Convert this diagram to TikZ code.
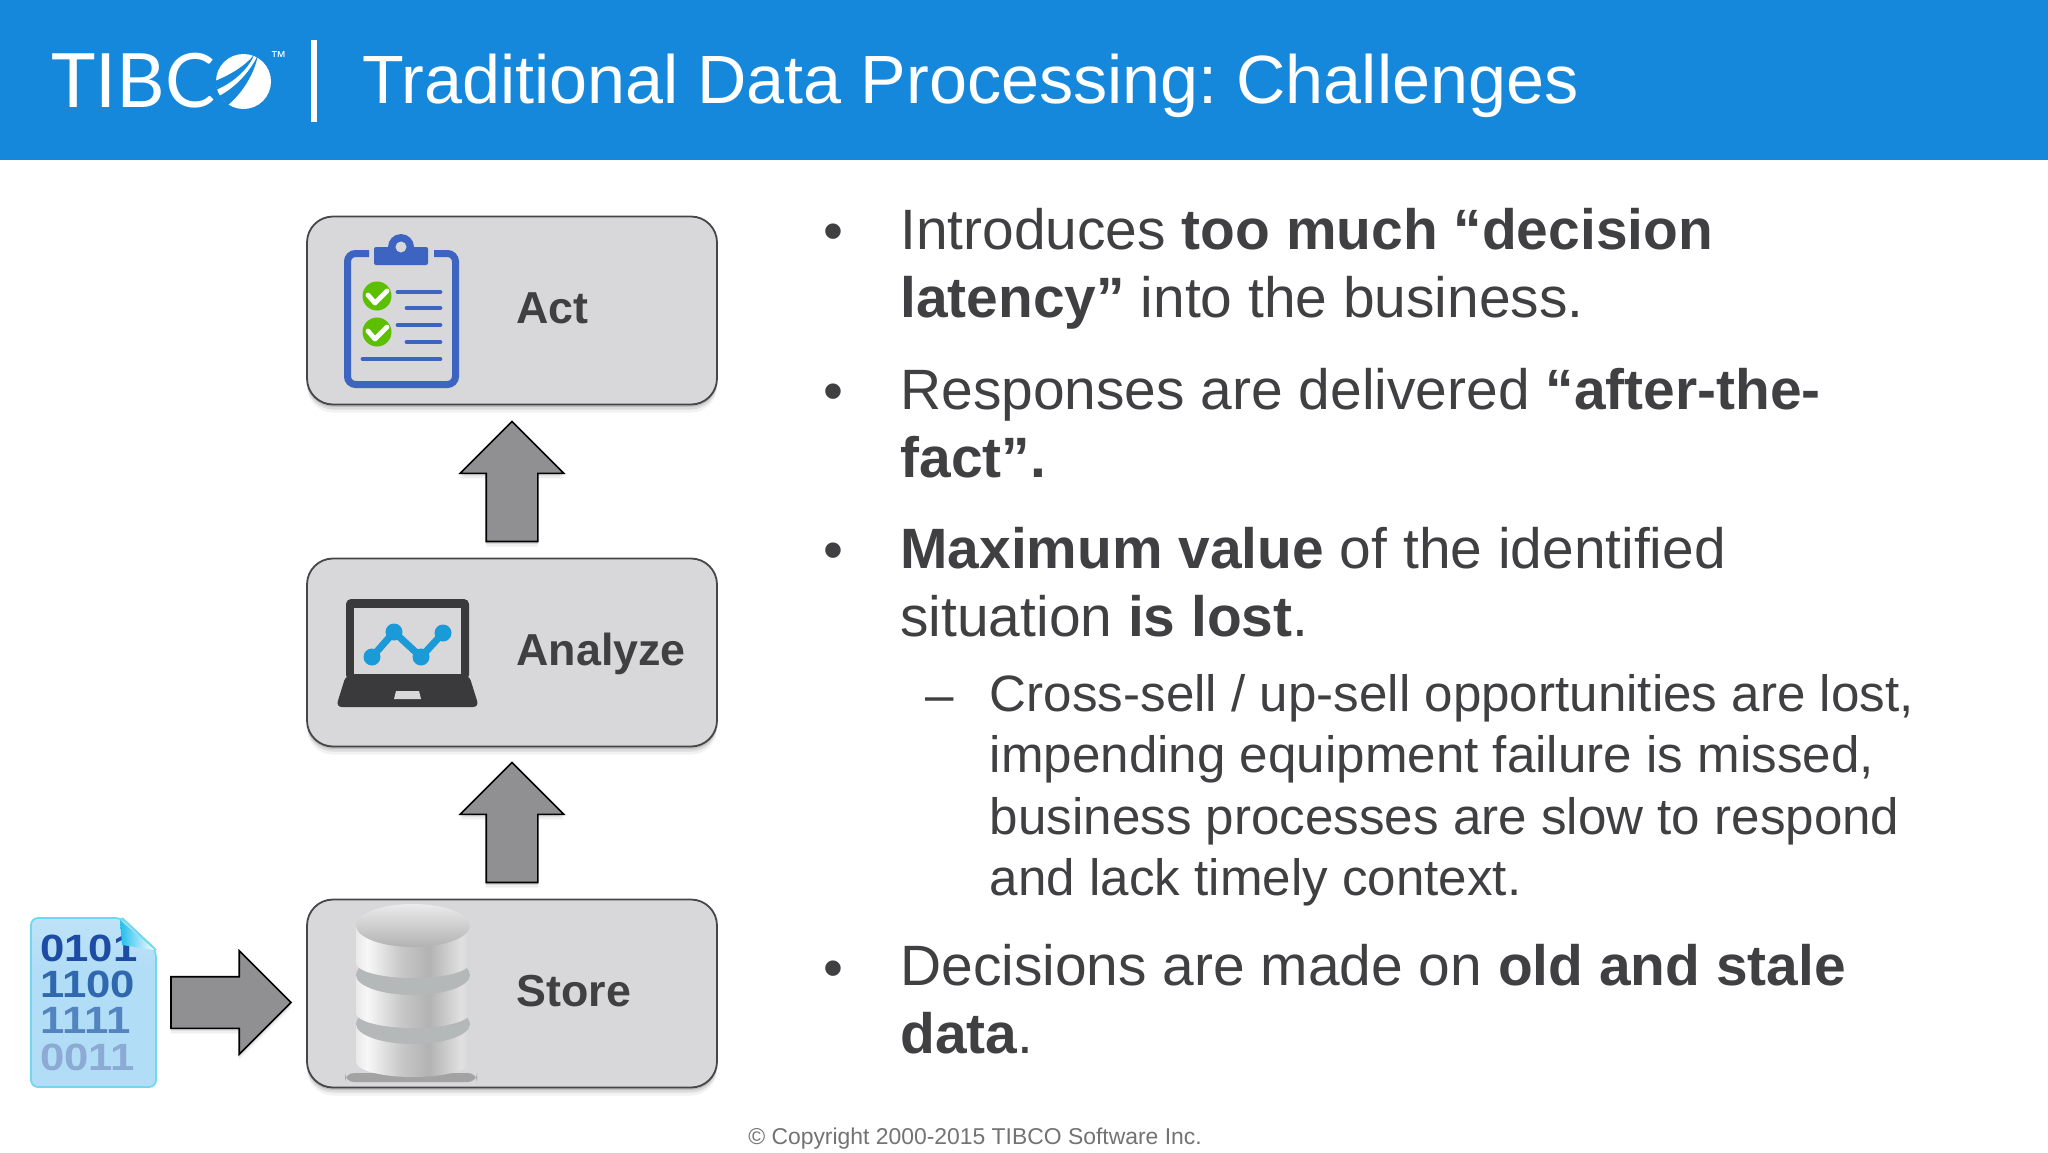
\documentclass[tikz,border=0pt]{standalone}
\usepackage{fontspec}
\usetikzlibrary{positioning, calc, shapes.arrows, shadows}
\setmainfont{Liberation Sans}
\newfontfamily\logofont{Lato}
\frenchspacing

\definecolor{bannerblue}{HTML}{1688DC}
\definecolor{bodygray}{HTML}{404042}
\definecolor{stagegray}{HTML}{D8D8DA}
\definecolor{stageedge}{HTML}{464648}
\definecolor{arrowgray}{HTML}{908F92}
\definecolor{clipblue}{HTML}{3D64C0}
\definecolor{checkgreen}{HTML}{5CC000}
\definecolor{chartblue}{HTML}{1A9BD8}
\definecolor{laptopdark}{HTML}{3A393C}
\definecolor{fileedge}{HTML}{70D8F0}
\definecolor{filemid}{HTML}{B2DDF6}
\definecolor{filetop}{HTML}{D4ECFA}
\definecolor{foldcyan}{HTML}{20BEEE}
\definecolor{bitsa}{HTML}{1C4CA4}
\definecolor{bitsb}{HTML}{3068B0}
\definecolor{bitsc}{HTML}{5484C0}
\definecolor{bitsd}{HTML}{8CAAD4}
\definecolor{dbband}{HTML}{B5B8B8}

\pgfdeclarehorizontalshading{dbsteel}{100bp}{color(0bp)=(black!35); color(15bp)=(black!20); color(30bp)=(black!3); color(45bp)=(black!22); color(57bp)=(black!30); color(71bp)=(black!12); color(86bp)=(black!28); color(100bp)=(black!55)}
\pgfdeclareverticalshading{filefill}{100bp}{color(0bp)=(white); color(7bp)=(white); color(24bp)=(filemid); color(60bp)=(filemid); color(100bp)=(filetop)}

\tikzset{
	stage/.style={draw=stageedge, fill=stagegray, line width=.9pt, rounded corners=13pt,
		minimum width=205pt, minimum height=94pt, inner sep=0pt, outer sep=0pt,
		drop shadow={shadow xshift=0pt, shadow yshift=-4pt, opacity=.1},
		drop shadow={shadow xshift=0pt, shadow yshift=-2.5pt, opacity=.2},
		drop shadow={shadow xshift=0pt, shadow yshift=-1.2pt, opacity=.3}},
	stagelabel/.style={anchor=base west, inner sep=0pt, text=bodygray, font=\fontsize{22.4}{26}\selectfont\bfseries},
	blockarrow/.style={single arrow, draw=black, fill=arrowgray, line width=.8pt, inner sep=12.5pt, outer sep=0pt,
		minimum width=51pt, minimum height=60pt, single arrow head extend=13pt, single arrow tip angle=90,
		single arrow head indent=0pt, anchor=tail,
		drop shadow={shadow xshift=0pt, shadow yshift=-2.5pt, opacity=.12},
		drop shadow={shadow xshift=0pt, shadow yshift=-1.2pt, opacity=.2}},
	bullettext/.style={anchor=north west, align=left, inner sep=0pt, text=bodygray, font=\fontsize{28.45}{34}\selectfont},
	subtext/.style={anchor=north west, align=left, inner sep=0pt, text=bodygray, font=\fontsize{25.57}{30.7}\selectfont},
	bulletmark/.style={anchor=center, inner sep=0pt, text=bodygray, font=\fontsize{28.45}{34}\selectfont},
	bitsrow/.style={anchor=base west, inner sep=0pt, font=\fontsize{19}{20}\selectfont\bfseries},
	cliprule/.style={clipblue, line width=2.4pt, line cap=round},
	tick/.style={white, line width=2.4pt, line join=round, line cap=round},
}

\begin{document}
\begin{tikzpicture}[x=.5pt, y=-.5pt]
	\useasboundingbox (0,0) rectangle (2048,1152);
	\fill[white] (0,0) rectangle (2048,1152);

	% banner
	\fill[bannerblue] (0,0) rectangle (2048,160);
	\node (tibco) [anchor=base west, inner sep=0pt, text=white, font=\fontsize{37.5}{40}\selectfont\logofont] at (51,107) {TIBC};
	\fill[white] (243.5,81.5) circle (27.5);
	\fill[bannerblue] (215,81) .. controls (230,75) and (245,66) .. (254,55) .. controls (248,70) and (232,83) .. (217,89.5) -- cycle;
	\fill[bannerblue] (219,96) .. controls (235,88) and (250,72) .. (258,55) .. controls (254,75) and (242,93) .. (228,105) -- cycle;
	\node (tm) [anchor=base west, inner sep=0pt, text=white, font=\fontsize{8}{9}\selectfont] at (270,62) {™};
	\draw[white, line width=3pt] (314,40) -- (314,122);
	\node (title) [anchor=base west, inner sep=0pt, text=white, font=\fontsize{34.15}{40}\selectfont] at (362,103) {Traditional Data Processing: Challenges};

	% stages
	\node (store) [stage] at (512,993.5) {};
	\node (analyze) [stage, above=76.5pt of store] {};
	\node (act) [stage, above=77pt of analyze] {};
	\node (actlabel) [stagelabel] at (516,323) {Act};
	\node (analyzelabel) [stagelabel] at (516,665) {Analyze};
	\node (storelabel) [stagelabel] at (516,1006) {Store};

	% clipboard
	\draw[clipblue, line width=3.5pt, rounded corners=4pt] (369,253.5) -- (347.5,253.5) -- (347.5,384.5) -- (455.5,384.5) -- (455.5,253.5) -- (434,253.5);
	\fill[clipblue] (401,247) circle (13);
	\fill[clipblue, rounded corners=1pt] (374,247) rectangle (428,265);
	\fill[stagegray] (401,247) circle (5.5);
	\foreach \rowy in {296,332} {
		\fill[checkgreen] (377,\rowy) circle (14.5);
		\draw[tick] (368,\rowy-1) -- (375,\rowy+7) -- (387,\rowy-5);
	}
	\draw[cliprule] (398,292) -- (440,292);
	\draw[cliprule] (407,308) -- (440,308);
	\draw[cliprule] (398,325) -- (440,325);
	\draw[cliprule] (407,342) -- (440,342);
	\draw[cliprule] (363,359) -- (440,359);

	% laptop
	\fill[laptopdark, rounded corners=2.5pt] (346,680) -- (346,599) -- (469,599) -- (469,680) -- cycle;
	\fill[laptopdark, rounded corners=3pt] (346,675) -- (336,707) -- (479,707) -- (469,675) -- cycle;
	\fill[stagegray] (354,608) rectangle (461,674);
	\fill[stagegray] (396,691) -- (419,691) -- (421,699) -- (394,699) -- cycle;
	\draw[chartblue, line width=3.5pt] (372,657) -- (394,632) -- (421,657) -- (443,633);
	\foreach \px/\py in {372/657, 394/632, 421/657, 443/633}
		\fill[chartblue] (\px,\py) circle (8.5);

	% database
	\fill[black!50, opacity=.6, rounded corners=4.5pt] (345,1073) rectangle (477,1082);
	\foreach \dbtop/\dbend/\dbry in {1024/1062/20, 975/1013/20} {
		\shade[shading=dbsteel] (356,\dbtop) -- (356,\dbend) arc (180:0:57 and 15) -- (470,\dbtop) -- cycle;
		\fill[dbband] (413,\dbtop) ellipse (57 and \dbry);
	}
	\shade[shading=dbsteel] (356,926) -- (356,963) arc (180:0:57 and 15) -- (470,926) -- cycle;
	\shade[top color=black!8, bottom color=black!30] (413,925.5) ellipse (57 and 21.5);

	% data file
	\node (datafile) [minimum width=62.5pt, minimum height=84.5pt, inner sep=0pt, outer sep=0pt] at (93.5,1002.5) {};
	\shade[shading=filefill, draw=fileedge, line width=.9pt, rounded corners=3.5pt] (122,918) -- (31,918) -- (31,1087) -- (156,1087) -- (156,950) -- cycle;
	\foreach \rowy/\bits/\bitstone in {961/0101/bitsa, 997/1100/bitsb, 1033/1111/bitsc, 1070/0011/bitsd}
		\node (bits\bits) [bitsrow, text=\bitstone] at (40,\rowy) {\scalebox{1.15}[1]{\bits}};
	\shade[left color=foldcyan, right color=white] (120,920) -- (155,950) -- (122,945) -- cycle;
	\draw[fileedge, line width=.9pt] (122,918) -- (156,950);

	% block arrows
	\node (analyzetoact) [blockarrow, shape border rotate=90] at ($(analyze.north)+(0,-17)$) {};
	\node (storetoanalyze) [blockarrow, shape border rotate=90] at ($(store.north)+(0,-17)$) {};
	\node (filetostore) [blockarrow] at ($(datafile.east)+(15,0)$) {};

	% bullets
	\node (markone) [bulletmark] at (833,237) {•};
	\node (pointone) [bullettext] at (900,208) {Introduces \textbf{too much “decision}\\\textbf{latency”} into the business.};
	\node (marktwo) [bulletmark] at (833,397) {•};
	\node (pointtwo) [bullettext] at (900,368) {Responses are delivered \textbf{“after-the-}\\\textbf{fact”.}};
	\node (markthree) [bulletmark] at (833,556) {•};
	\node (pointthree) [bullettext] at (900,526.5) {\textbf{Maximum value} of the identified\\situation \textbf{is lost}.};
	\node (dashmark) [bulletmark, font=\fontsize{25.57}{30.7}\selectfont] at (940,705) {–};
	\node (subpoint) [subtext] at (989.5,674) {Cross-sell / up-sell opportunities are lost,\\impending equipment failure is missed,\\business processes are slow to respond\\and lack timely context.};
	\node (markfour) [bulletmark] at (833,974) {•};
	\node (pointfour) [bullettext] at (900,944) {Decisions are made on \textbf{old and stale}\\\textbf{data}.};

	% footer
	\node (copyright) [anchor=base, inner sep=0pt, text=black!55, font=\fontsize{11.45}{14}\selectfont] at (975,1144) {© Copyright 2000-2015 TIBCO Software Inc.};
\end{tikzpicture}
\end{document}
